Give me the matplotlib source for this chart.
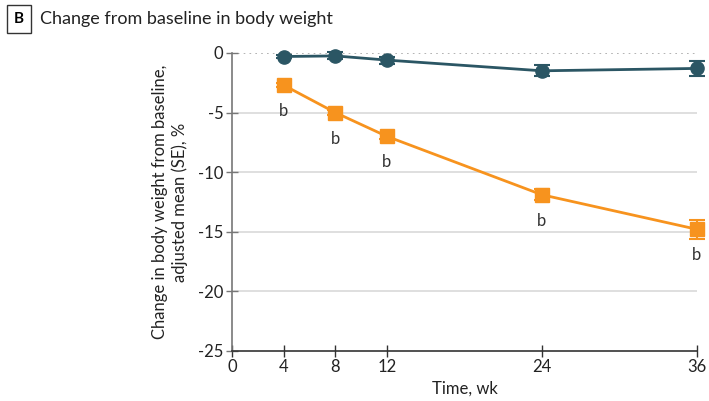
import matplotlib
matplotlib.use("Agg")
import matplotlib.pyplot as plt

plt.rcParams['font.family'] = ['Lato', 'DejaVu Sans']
plt.rcParams['axes.unicode_minus'] = False

weeks = [4, 8, 12, 24, 36]
placebo_mean = [-0.3, -0.25, -0.6, -1.5, -1.3]
placebo_se = [0.15, 0.3, 0.3, 0.45, 0.6]
drug_mean = [-2.7, -5.0, -7.0, -11.9, -14.8]
drug_se = [0.15, 0.2, 0.25, 0.45, 0.8]
sig_labels = ['b', 'b', 'b', 'b', 'b']

x_ticks = [0, 4, 8, 12, 24, 36]
y_ticks = [0, -5, -10, -15, -20, -25]

teal = '#2b5664'
orange = '#f7931e'

fig = plt.figure(figsize=(7.09, 4.01), dpi=100)
ax = fig.add_axes([0.327, 0.125, 0.656, 0.743])

# gridlines, dotted line at zero
for yv in y_ticks[1:-1]:
    ax.axhline(yv, color='#d9d9d9', lw=1.2, zorder=0)
ax.axhline(0, color='#a6a6a6', lw=1.2, ls=(0, (1, 2.5)), zorder=0)

ax.errorbar(weeks, placebo_mean, yerr=placebo_se, color=teal, marker='o', ms=9.5,
            lw=2, capsize=6, capthick=1.5, elinewidth=1.5, zorder=3, clip_on=False)
ax.errorbar(weeks, drug_mean, yerr=drug_se, color=orange, marker='s', ms=9.5,
            lw=2, capsize=6, capthick=1.5, elinewidth=1.5, zorder=3, clip_on=False)

for wk, m, lab in zip(weeks, drug_mean, sig_labels):
    ax.annotate(lab, (wk, m), xytext=(0, -13), textcoords='offset points',
                ha='center', va='top', fontsize=12, color='#333333')

ax.set_xlim(0, 36)
ax.set_ylim(-25, 0)
ax.set_xticks(x_ticks)
ax.set_yticks(y_ticks)

for s in ['top', 'right']:
    ax.spines[s].set_visible(False)
ax.spines['left'].set_color('#777777')
ax.spines['bottom'].set_color('#333333')
ax.spines['left'].set_linewidth(1.2)
ax.spines['bottom'].set_linewidth(1.2)
ax.tick_params(axis='y', direction='inout', length=8, width=1, colors='#777777',
               labelcolor='#222222', labelsize=12, pad=2)
ax.tick_params(axis='x', direction='inout', length=8, width=1, colors='#333333',
               labelcolor='#222222', labelsize=12, pad=2)

ax.set_xlabel('Time, wk', fontsize=12, color='#222222', labelpad=4)
ax.set_ylabel('Change in body weight from baseline,\nadjusted mean (SE), %',
              fontsize=12, color='#222222', labelpad=7, linespacing=1.25)

fig.text(0.0265, 0.952, 'B', fontsize=11, fontweight='bold', ha='center', va='center',
         bbox=dict(boxstyle='square,pad=0.45', fc='white', ec='#333333', lw=1))
fig.text(0.056, 0.952, 'Change from baseline in body weight', fontsize=13,
         ha='left', va='center', color='#222222')

fig.savefig('out.png', dpi=100)
